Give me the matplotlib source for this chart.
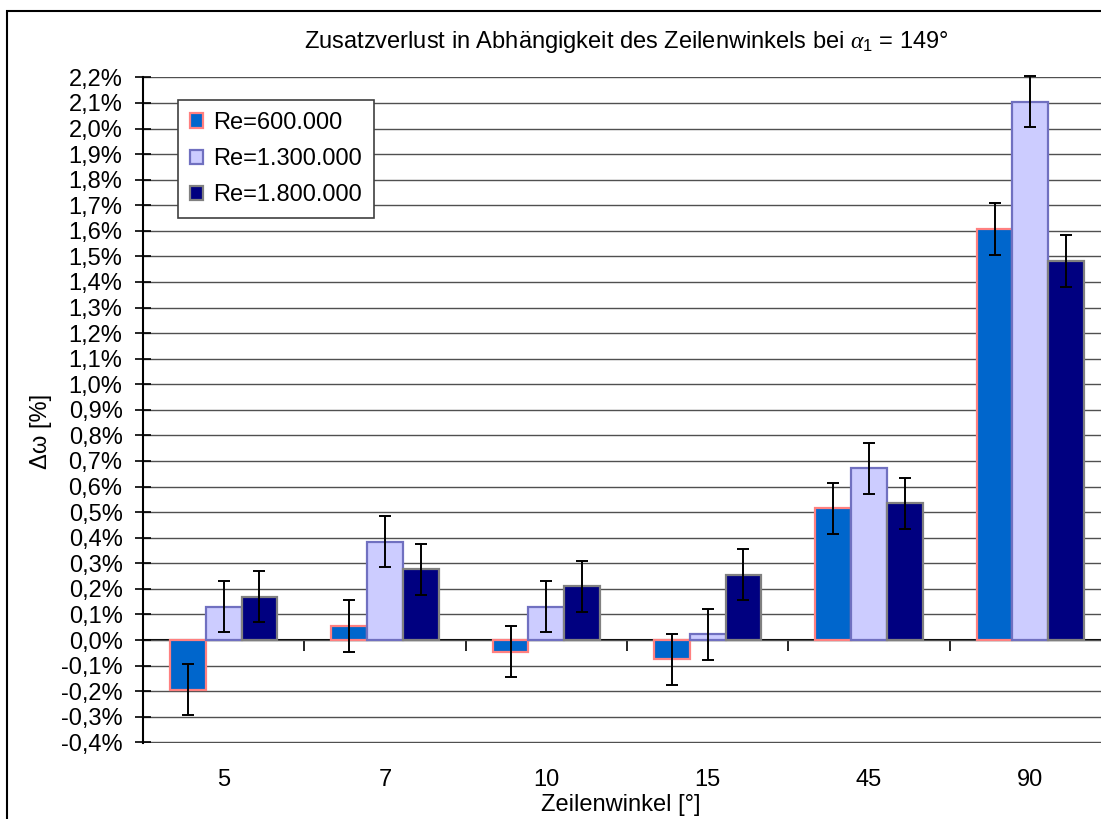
import numpy as np
import matplotlib.pyplot as plt
from matplotlib.patches import Rectangle
from matplotlib.ticker import FuncFormatter, MultipleLocator

plt.rcParams['font.family'] = ['Liberation Sans', 'DejaVu Sans']
plt.rcParams['mathtext.fontset'] = 'custom'
plt.rcParams['mathtext.rm'] = 'Liberation Sans'
plt.rcParams['mathtext.it'] = 'Liberation Serif:italic'

# Zeilenwinkel und Zusatzverlust in %
winkel = ["5", "7", "10", "15", "45", "90"]
re_labels = ["Re=600.000", "Re=1.300.000", "Re=1.800.000"]
re_600k = [-0.195, 0.055, -0.045, -0.075, 0.515, 1.607]
re_1300k = [0.13, 0.384, 0.13, 0.023, 0.672, 2.105]
re_1800k = [0.17, 0.277, 0.21, 0.256, 0.534, 1.482]
fehler = 0.1  # Messunsicherheit +/- in %

farben = ["#0066CC", "#CCCCFF", "#000080"]
kanten = ["#FF8080", "#7070C0", "#808080"]

W, H = 1101, 819
fig = plt.figure(figsize=(W / 100, H / 100), dpi=100)
ax = fig.add_axes([143 / W, 1 - 742.7 / H, 968 / W, 665.7 / H])

x = np.arange(len(winkel))
w = 0.222
for i, werte in enumerate([re_600k, re_1300k, re_1800k]):
    ax.bar(x + (i - 1) * w, werte, w, color=farben[i], edgecolor=kanten[i],
           linewidth=1.6, label=re_labels[i], zorder=3)
    eb = ax.errorbar(x + (i - 1) * w, werte, yerr=fehler, fmt="none", ecolor="black",
                     elinewidth=1.4, capsize=4.5, capthick=1.4, zorder=4)
    for teil in eb.lines[1] + eb.lines[2]:
        teil.set_clip_on(False)

ax.set_ylim(-0.4015, 2.2015)
ax.set_xlim(-0.5, len(winkel) - 0.5)
ax.yaxis.set_major_locator(MultipleLocator(0.1))
ax.yaxis.set_major_formatter(FuncFormatter(lambda v, p: f"{v:.1f}%".replace(".", ",")))
ax.grid(axis="y", color="#505050", linewidth=1.0, zorder=0)
ax.tick_params(axis="y", direction="inout", length=11.5, width=1.2, labelsize=17, pad=9)
ax.set_xticks(x)
ax.set_xticklabels(winkel)
ax.tick_params(axis="x", length=0, labelsize=17, pad=19)

for s in ["top", "right", "bottom"]:
    ax.spines[s].set_visible(False)
ax.spines["left"].set_linewidth(1.5)

# Nulllinie mit Kategorietrennern
null = ax.secondary_xaxis(0.4015 / 2.603)
null.set_xticks(np.arange(len(winkel) + 1) - 0.5)
null.set_xticklabels([])
null.tick_params(axis="x", direction="out", length=8, width=1.2)
null.spines["bottom"].set_linewidth(1.5)

ax.set_ylabel("Δω [%]", fontsize=17)
ax.yaxis.set_label_coords(-0.105, 0.468)
ax.yaxis.label.set_va("center")
ax.set_xlabel("Zeilenwinkel [°]", fontsize=17)
ax.xaxis.set_label_coords(0.494, -0.0936)
ax.xaxis.label.set_va("center")

fig.text(626 / W, 1 - 42 / H,
         r"Zusatzverlust in Abhängigkeit des Zeilenwinkels bei $\alpha_{1}$ = 149°",
         ha="center", va="center", fontsize=17)

leg = ax.legend(loc="upper left", bbox_to_anchor=(178 / W, 1 - 100 / H),
                bbox_transform=fig.transFigure, fontsize=17, frameon=True,
                fancybox=False, framealpha=1, edgecolor="#404040",
                handlelength=0.55, handleheight=0.55, handletextpad=0.45,
                labelspacing=0.6, borderpad=0.5, borderaxespad=0)
leg.get_frame().set_linewidth(1.2)

fig.patches.append(Rectangle((7 / W, -0.1), 2, 1.1 - 11 / H, transform=fig.transFigure,
                             fill=False, edgecolor="black", linewidth=1.5))

fig.savefig("out.png", dpi=100)
